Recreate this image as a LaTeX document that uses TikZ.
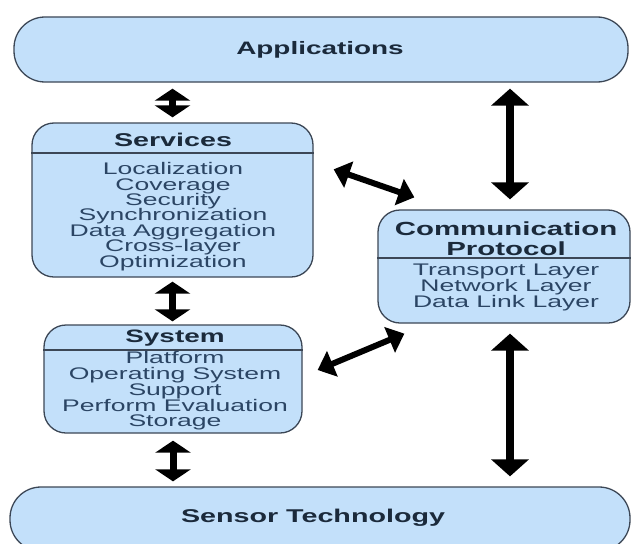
\documentclass[tikz,border=0pt]{standalone}
\usepackage{fontspec}
\usetikzlibrary{arrows.meta}
\newfontfamily\wfont[FakeStretch=1.55]{Liberation Sans}
\newfontfamily\ifont[FakeStretch=1.58]{Liberation Sans}
\newcommand\tightlines{\lineskiplimit=-50pt\relax}
\definecolor{boxfill}{HTML}{C3E0FA}
\definecolor{boxline}{HTML}{3C4756}
\definecolor{titlecol}{HTML}{1B2A3B}
\definecolor{itemcol}{HTML}{2B4564}
\tikzset{
  box/.style={draw=boxline, line width=1.3pt, fill=boxfill, rounded corners=22pt, inner sep=0pt},
  stadium/.style={draw=boxline, line width=1.3pt, fill=boxfill, rounded corners=31pt, inner sep=0pt},
  ttl/.style={text=titlecol, font=\wfont\bfseries\fontsize{18}{19}\selectfont, align=center, inner sep=0pt},
  itm/.style={text=itemcol, font=\ifont\fontsize{16.8}{15.4}\selectfont\tightlines, align=center, inner sep=0pt},
  divider/.style={draw=boxline, line width=1.1pt},
  vbig/.style={line width=8pt, {Triangle[width=37pt,length=17pt]}-{Triangle[width=37pt,length=17pt]}},
  vsmall/.style={line width=7pt, {Triangle[width=35pt,length=12pt]}-{Triangle[width=35pt,length=12pt]}},
  diag/.style={line width=6pt, {Triangle[width=27pt,length=16pt]}-{Triangle[width=27pt,length=16pt]}}
}
\begin{document}
\begin{tikzpicture}[x=1pt,y=-1pt]
\useasboundingbox (0,0) rectangle (636,543);
\clip (0,0) rectangle (636,543);
\fill[white] (0,0) rectangle (636,543);

% Applications
\node[stadium, minimum width=614pt, minimum height=65pt] (app) at (321,49.5) {};
\node[ttl] (appt) at (320,50) {Applications};

% Sensor Technology
\node[stadium, minimum width=620pt, minimum height=64pt] (sen) at (320,519) {};
\node[ttl, font=\wfont\bfseries\fontsize{18.5}{19}\selectfont] (sent) at (313,518) {Sensor Technology};

% Services
\node[box, minimum width=281pt, minimum height=154pt] (svc) at (172.5,200) {};
\draw[divider] (svc.west |- 0,153) -- (svc.east |- 0,153);
\node[ttl, font=\wfont\bfseries\fontsize{18.5}{19}\selectfont] (svct) at (173,140) {Services};
\node[itm] (svci) at (173,216.5) {Localization\\Coverage\\Security\\Synchronization\\Data Aggregation\\Cross-layer\\Optimization};

% System
\node[box, minimum width=258pt, minimum height=108pt] (sys) at (173,379) {};
\draw[divider] (sys.west |- 0,350) -- (sys.east |- 0,350);
\node[ttl] (syst) at (175,338) {System};
\node[itm, font=\ifont\fontsize{16.8}{15.8}\selectfont\tightlines] (sysi) at (175,391) {Platform\\Operating System\\Support\\Perform Evaluation\\Storage};

% Communication Protocol
\node[box, minimum width=252pt, minimum height=113pt] (com) at (504,266.5) {};
\draw[divider] (com.west |- 0,258) -- (com.east |- 0,258);
\node[ttl, font=\wfont\bfseries\fontsize{19}{19.5}\selectfont] (comt) at (506,238.5) {Communication\\Protocol};
\node[itm, font=\ifont\fontsize{16.8}{16}\selectfont\tightlines] (comi) at (506,287.5) {Transport Layer\\Network Layer\\Data Link Layer};

% arrows, left column
\draw[vsmall, shorten <=6pt, shorten >=5pt] (svc.north |- app.south) -- (svc.north);
\draw[vsmall, shorten <=4pt, shorten >=3pt] (svc.south) -- (sys.north -| svc.south);
\draw[vsmall, shorten <=7pt, shorten >=5pt] (sys.south) -- (sen.north -| sys.south);

% arrows, right column
\draw[vbig, shorten <=6pt, shorten >=10pt] ([xshift=6pt]com.north |- app.south) -- ([xshift=6pt]com.north);
\draw[vbig, shorten <=10pt, shorten >=10pt] ([xshift=6pt]com.south) -- ([xshift=6pt]com.south |- sen.north);

% diagonal arrows
\draw[diag] ([shift={(20,47)}]svc.north east) -- ([shift={(37,-12)}]com.north west);
\draw[diag] ([shift={(15,-9)}]sys.east) -- ([shift={(27,10)}]com.south west);
\end{tikzpicture}
\end{document}
